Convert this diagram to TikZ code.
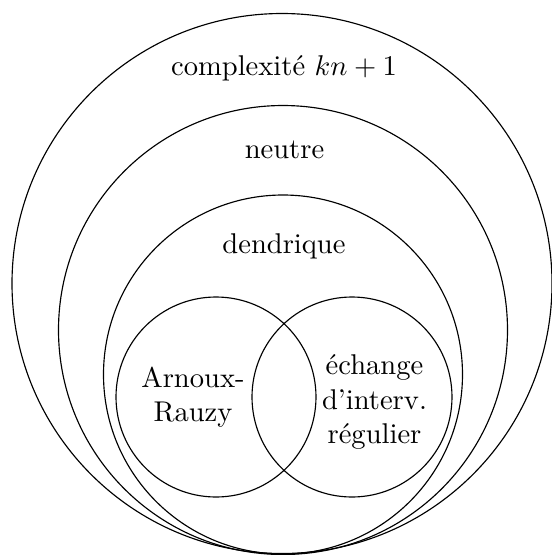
\documentclass[tikz,border=0pt]{standalone}
\begin{document}
\begin{tikzpicture}[x=0.35pt,y=-0.35pt,
  ring/.style={draw=black,line width=0.4pt},
  lbl/.style={inner sep=0pt,align=center,font=\normalsize}]
\useasboundingbox (0,0) rectangle (552,555);
% nested classes, all touching at the bottom point
\draw[ring] (282,283.5) circle[radius=270];
\draw[ring] (283,330) circle[radius=224.5];
\draw[ring] (283,374.5) circle[radius=179.5];
% two overlapping subclasses
\draw[ring] (216,397) circle[radius=100];
\draw[ring] (352,397) circle[radius=100];
% labels
\node[lbl] (kn) at (284,68) {complexit\'e $kn+1$};
\node[lbl] (neu) at (284.5,150) {neutre};
\node[lbl] (den) at (284,246) {dendrique};
\node[lbl] (ar) at (193,397) {Arnoux-\\Rauzy};
\node[lbl] (ei) at (374.5,402) {\'echange\\d'interv.\\r\'egulier};
\end{tikzpicture}
\end{document}
